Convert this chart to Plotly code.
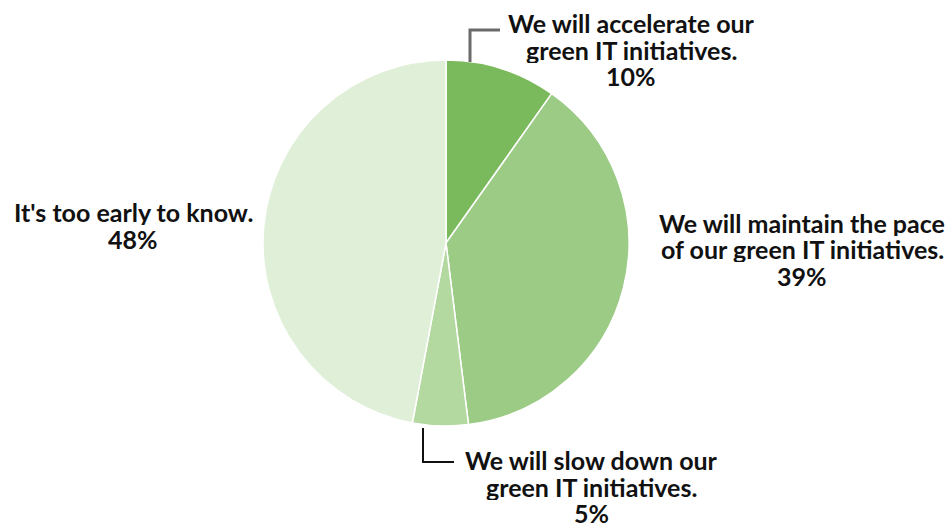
import plotly.graph_objects as go

# Survey responses about green IT plans
categories = [
    "We will accelerate our\ngreen IT initiatives.",
    "We will maintain the pace\nof our green IT initiatives.",
    "We will slow down our\ngreen IT initiatives.",
    "It's too early to know.",
]
values = [10, 39, 5, 48]
colors = ["#7aba5c", "#9bcb85", "#b3d9a0", "#e0efd7"]

W, H = 948, 529

# label anchor (centre x, first-line y) in pixels, and leader polylines
label_pos = [(631, 23), (802, 223), (591, 460), (133, 212)]
line_gap = 26.5
leaders = [
    ([470, 470, 500], [62, 30, 30], "#6a6a6a", 3),
    None,
    ([423, 423, 454], [428, 462, 462], "#111111", 2),
    None,
]

FONT = "Lato, Roboto, sans-serif"

def px(x):
    return x / W

def py(y):
    return 1 - y / H

fig = go.Figure(
    go.Pie(
        labels=[c.replace("\n", " ") for c in categories],
        values=values,
        sort=False,
        direction="clockwise",
        rotation=0,
        marker=dict(colors=colors, line=dict(color="white", width=1.5)),
        textinfo="none",
        hoverinfo="label+percent",
        domain=dict(x=[px(446 - 183), px(446 + 183)], y=[py(426), py(60)]),
        showlegend=False,
    )
)

annotations = []
for cat, val, (cx, cy) in zip(categories, values, label_pos):
    lines = cat.split("\n") + [f"{val}%"]
    for i, ln in enumerate(lines):
        annotations.append(
            dict(
                text=f"<b>{ln}</b>",
                x=px(cx),
                y=py(cy + i * line_gap),
                xref="paper",
                yref="paper",
                xanchor="center",
                yanchor="middle",
                height=26,
                borderpad=0,
                showarrow=False,
                font=dict(family=FONT, size=25, color="#111111"),
            )
        )

shapes = []
for ld in leaders:
    if ld is None:
        continue
    xs, ys, col, wd = ld
    path = "M " + " L ".join(f"{px(x)},{py(y)}" for x, y in zip(xs, ys))
    shapes.append(
        dict(type="path", path=path, xref="paper", yref="paper",
             line=dict(color=col, width=wd))
    )

fig.update_layout(
    width=W,
    height=H,
    margin=dict(l=0, r=0, t=0, b=0),
    paper_bgcolor="white",
    plot_bgcolor="white",
    annotations=annotations,
    shapes=shapes,
)

fig.write_html("out.html")
